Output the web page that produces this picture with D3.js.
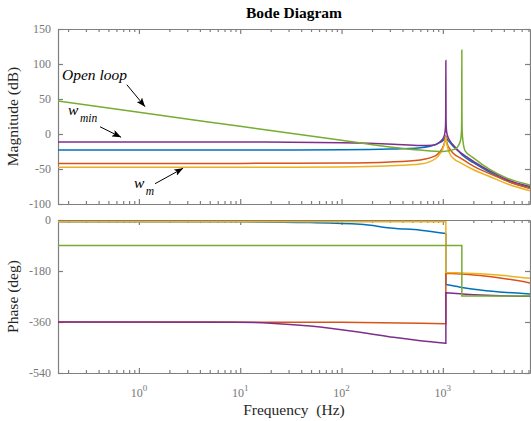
<!DOCTYPE html>
<html>
<head>
<meta charset="utf-8">
<script src="https://cdn.jsdelivr.net/npm/d3@7"></script>
<style>
body { margin: 0; background: #fff; }
svg text { font-family: "Liberation Serif", "Times New Roman", serif; }
</style>
</head>
<body>
<div id="chart"></div>
<script>
/*-------------------- Data -------------------*/

var freqRange = [0.159, 7250];           // Hz
var magTicks = [-100, -50, 0, 50, 100, 150];
var phaseTicks = [-540, -360, -180, 0];
var decades = [1, 10, 100, 1000];

// magnitude, [Hz, dB]
var magBlue = [[0.159,-23],[10,-23],[100,-22.5],[300,-21.5],[600,-19.5],[850,-15],[940,-12],[1000,-9.5],[1040,-6.5],[1060,-4.5],[1071,-3],[1085,-5.5],[1110,-8],[1180,-12.5],[1272,-18],[1483,-27],[1596,-31.5],[2004,-41],[2931,-55],[4285,-67],[7250,-77]];
var magOrange = [[0.159,-42],[10,-42],[100,-41.5],[300,-40],[600,-37],[850,-31],[940,-25],[1000,-19],[1040,-12],[1060,-7],[1071,-3],[1082,-8],[1100,-13],[1180,-22],[1272,-28],[1483,-34],[2004,-46],[2931,-57],[4285,-67],[7250,-78]];
var magYellow = [[0.159,-47.5],[10,-47.5],[100,-47],[300,-45.5],[600,-43],[850,-35],[940,-28],[1000,-21],[1040,-13],[1060,-8],[1071,-4],[1082,-10],[1100,-16],[1180,-29],[1272,-35],[1483,-41],[2004,-51],[2931,-61],[4285,-71],[7250,-81]];
var magPurple = [[0.159,-11.5],[10,-11.5],[100,-12.5],[324,-14.5],[600,-16.5],[800,-16],[940,-11],[1000,-7],[1040,-1],[1060,8],[1067,25],[1071,105],[1075,25],[1082,8],[1100,0],[1180,-10],[1272,-16],[1483,-26],[1596,-29.5],[2004,-39],[2931,-53],[4285,-65],[7250,-75]];
var magGreen = [[0.159,47],[1,31],[10,11],[100,-9],[300,-18.5],[600,-23],[1000,-25],[1300,-22],[1420,-17],[1500,-8],[1528,5],[1536,30],[1540,120],[1544,30],[1552,5],[1580,-10],[1660,-24],[2004,-34],[2931,-51],[4285,-63],[7250,-73]];

// phase, [Hz, deg]
var phBlue = [[0.159,-6],[10,-6.5],[49,-9],[153,-15],[326,-29],[600,-36],[1071,-48],[1071,-228],[1483,-237],[2340,-247],[4285,-256],[7250,-261]];
var phOrange = [[0.159,-360],[100,-361],[600,-364],[1071,-366],[1071,-188],[2340,-196],[4285,-208],[7250,-222]];
var phYellow = [[0.159,-6],[1071,-6],[1071,-185],[2340,-190],[4285,-197],[7250,-206]];
var phPurple = [[0.159,-360],[9,-361],[20,-364],[49,-374],[153,-396],[326,-414],[600,-426],[1071,-435],[1071,-257],[2340,-265],[7250,-269]];
var phGreen = [[0.159,-90],[1540,-90],[1540,-268],[7250,-268]];

var seriesColors = ["#0072BD", "#D95319", "#EDB120", "#7E2F8E", "#77AC30"];
var magSeries = [magBlue, magOrange, magYellow, magPurple, magGreen];
var phSeries = [phBlue, phOrange, phYellow, phPurple, phGreen];

// annotations: text position and arrow tail/tip in [Hz, dB]
var notes = [
    {text: "Open loop", sub: "", at: [0.174, 76.6], tail: [0.76, 70.4], tip: [1.15, 39]},
    {text: "w", sub: "min", at: [0.2, 27.6], tail: [0.413, 10.4], tip: [0.667, -4.6]},
    {text: "w", sub: "m", at: [0.895, -76.7], tail: [1.444, -71], tip: [2.73, -48.9]}
];

/*-------------------- Drawing -------------------*/

var frameColor = "#7f7f7f", tickColor = "#777", labelColor = "#262626";

var svg = d3.select("#chart").append("svg")
    .attr("width", 531)
    .attr("height", 421);

var xScale = d3.scaleLog().domain(freqRange).range([58, 530]);
var yMag = d3.scaleLinear().domain([-100, 150]).range([204, 29]);
var yPhase = d3.scaleLinear().domain([-540, 0]).range([373, 220]);

var defs = svg.append("defs");
defs.append("marker")
    .attr("id", "head")
    .attr("markerUnits", "userSpaceOnUse")
    .attr("markerWidth", 10).attr("markerHeight", 7)
    .attr("refX", 9).attr("refY", 3.5)
    .attr("orient", "auto")
    .append("path")
    .attr("d", "M0,0 L9,3.5 L0,7 L2,3.5 Z")
    .attr("fill", "#000");

// a series is split wherever it jumps (same frequency twice), each piece smoothed
function seriesPath(pts, y) {
    var line = d3.line().x(d => xScale(d[0])).y(d => y(d[1])).curve(d3.curveMonotoneX);
    var pieces = [], cur = [pts[0]];
    for (var i = 1; i < pts.length; i++) {
        if (pts[i][0] === pts[i - 1][0]) { pieces.push(cur); cur = []; }
        cur.push(pts[i]);
    }
    pieces.push(cur);
    return pieces.map((p, i) => {
        var s = p.length > 1 ? line(p) : "M" + xScale(p[0][0]) + "," + y(p[0][1]);
        return i === 0 ? s : "L" + s.slice(1);
    }).join("");
}

function drawPanel(id, y, ticks, series) {
    var r = y.range();
    defs.append("clipPath").attr("id", id)
        .append("rect")
        .attr("x", 58).attr("y", r[1])
        .attr("width", 472).attr("height", r[0] - r[1]);

    var minors = xScale.ticks().filter(d => Math.abs(Math.log10(d) - Math.round(Math.log10(d))) > 1e-6);

    var axes = [
        [d3.axisBottom(xScale), "translate(0," + r[0] + ")"],
        [d3.axisTop(xScale), "translate(0," + r[1] + ")"]
    ];
    axes.forEach(function(a) {
        svg.append("g").attr("transform", a[1])
            .call(a[0].tickValues(decades).tickSize(-5).tickSizeOuter(0).tickFormat(""));
        svg.append("g").attr("transform", a[1])
            .call(a[0].tickValues(minors).tickSize(-3).tickSizeOuter(0).tickFormat(""))
            .select(".domain").remove();
    });

    svg.append("g").attr("transform", "translate(58,0)")
        .call(d3.axisLeft(y).tickValues(ticks).tickSize(-5).tickSizeOuter(0).tickPadding(7).tickFormat(d => String(d)))
        .selectAll("text")
        .attr("fill", tickColor)
        .style("font-size", "12px")
        .style("font-family", "Liberation Serif, serif");
    svg.append("g").attr("transform", "translate(530,0)")
        .call(d3.axisRight(y).tickValues(ticks).tickSize(-5).tickSizeOuter(0).tickFormat(""));

    // curves go over the frame, as in the original
    svg.append("g").attr("clip-path", "url(#" + id + ")")
        .selectAll("path")
        .data(series)
        .enter()
        .append("path")
        .attr("d", d => seriesPath(d, y))
        .attr("fill", "none")
        .attr("stroke", (d, i) => seriesColors[i])
        .attr("stroke-width", 1.5);
}

drawPanel("clipMag", yMag, magTicks, magSeries);
drawPanel("clipPhase", yPhase, phaseTicks, phSeries);

svg.selectAll(".domain, .tick line").attr("stroke", frameColor).attr("stroke-width", 1.2);

// frequency tick labels 10^n
decades.forEach(function(d) {
    var t = svg.append("text")
        .attr("x", xScale(d)).attr("y", 397)
        .attr("text-anchor", "middle")
        .attr("fill", tickColor)
        .style("font-size", "12px");
    t.append("tspan").text("10");
    t.append("tspan").attr("dy", -6).style("font-size", "9px").text(Math.round(Math.log10(d)));
});

// titles and labels
svg.append("text")
    .attr("x", 294).attr("y", 18)
    .attr("text-anchor", "middle")
    .style("font-size", "15.5px").style("font-weight", "bold")
    .text("Bode Diagram");

svg.append("text")
    .attr("x", 294).attr("y", 415)
    .attr("text-anchor", "middle")
    .attr("fill", labelColor)
    .style("font-size", "15.5px")
    .style("white-space", "pre")
    .attr("xml:space", "preserve")
    .text("Frequency  (Hz)");

svg.append("text")
    .attr("transform", "translate(18," + ((29 + 204) / 2) + ") rotate(-90)")
    .attr("text-anchor", "middle")
    .attr("fill", labelColor)
    .style("font-size", "15.5px")
    .text("Magnitude (dB)");

svg.append("text")
    .attr("transform", "translate(18," + ((220 + 373) / 2) + ") rotate(-90)")
    .attr("text-anchor", "middle")
    .attr("fill", labelColor)
    .style("font-size", "15.5px")
    .text("Phase (deg)");

// annotations with arrows
notes.forEach(function(n) {
    var t = svg.append("text")
        .attr("x", xScale(n.at[0])).attr("y", yMag(n.at[1]))
        .style("font-size", "15.5px").style("font-style", "italic")
        .text(n.text);
    if (n.sub) {
        t.append("tspan").attr("dx", 1.5).attr("dy", 7.5).style("font-size", "11.5px").text(n.sub);
    }
    svg.append("line")
        .attr("x1", xScale(n.tail[0])).attr("y1", yMag(n.tail[1]))
        .attr("x2", xScale(n.tip[0])).attr("y2", yMag(n.tip[1]))
        .attr("stroke", "#000").attr("stroke-width", 1)
        .attr("marker-end", "url(#head)");
});
</script>
</body>
</html>
